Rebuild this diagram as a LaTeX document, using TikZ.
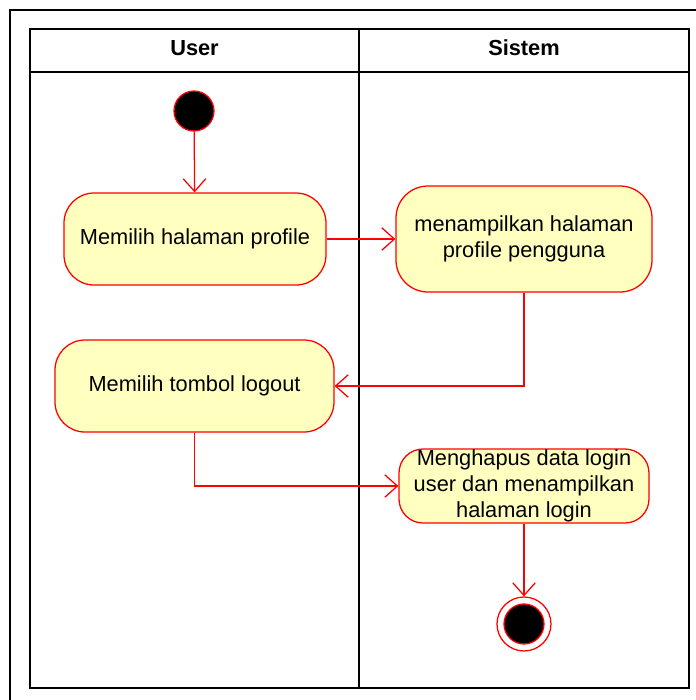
\documentclass[tikz,border=0pt]{standalone}
\usepackage{fontspec}
\setmainfont{Liberation Sans}
\usetikzlibrary{arrows.meta}
\definecolor{actfill}{HTML}{FFFFC0}
\definecolor{actline}{HTML}{FF0000}
\begin{document}
\begin{tikzpicture}[x=0.025cm,y=-0.025cm,
    act/.style={draw=actline,fill=actfill,line width=0.9pt,align=center,
      inner sep=0pt,font=\fontsize{15.5}{18.4}\selectfont},
    flow/.style={draw=actline,line width=0.9pt,-{Straight Barb[length=9pt,width=16pt]}},
    lane/.style={font=\bfseries\fontsize{15.5}{18.4}\selectfont}]
                \useasboundingbox (0,0) rectangle (696,700);
                % frame and swimlanes
                \draw[line width=1.4pt] (10,10) rectangle (710,720);
                \draw[line width=1.4pt] (30,29) rectangle (689,688);
                \draw[line width=1.4pt] (30,72) -- (689,72);
                \draw[line width=1.4pt] (359,29) -- (359,688);
                \node[lane] (user) at (194.5,48) {User};
                \node[lane] (sistem) at (524,48) {Sistem};

                % start and end
                \node[circle,draw=actline,fill=black,line width=0.9pt,minimum size=40*0.025cm,inner sep=0pt] (start) at (194,111) {};
                \node[circle,draw=actline,fill=white,line width=0.9pt,minimum size=54*0.025cm,inner sep=0pt] (end) at (524,624) {};
                \node[circle,draw=actline,fill=black,line width=0.9pt,minimum size=40*0.025cm,inner sep=0pt] (endin) at (524,624) {};

                % activities
                \node[act,rounded corners=0.75cm,minimum width=262*0.025cm,minimum height=92*0.025cm] (a1) at (195,239) {Memilih halaman profile};
                \node[act,rounded corners=0.8cm,minimum width=256*0.025cm,minimum height=106*0.025cm] (a2) at (524,239) {menampilkan halaman\\profile pengguna};
                \node[act,rounded corners=0.75cm,minimum width=279*0.025cm,minimum height=92*0.025cm] (a3) at (194.5,386) {Memilih tombol logout};
                \node[act,rounded corners=0.6cm,minimum width=250*0.025cm,minimum height=74*0.025cm] (a4) at (524,486) {Menghapus data login\\user dan menampilkan\\halaman login};

                % flows
                \draw[flow] (start) -- (a1);
                \draw[flow] (a1) -- (a2);
                \draw[flow] (a2.south) |- (a3.east);
                \draw[flow] (a3.south) |- (a4.west);
                \draw[flow] (a4) -- (end);
\end{tikzpicture}
\end{document}
